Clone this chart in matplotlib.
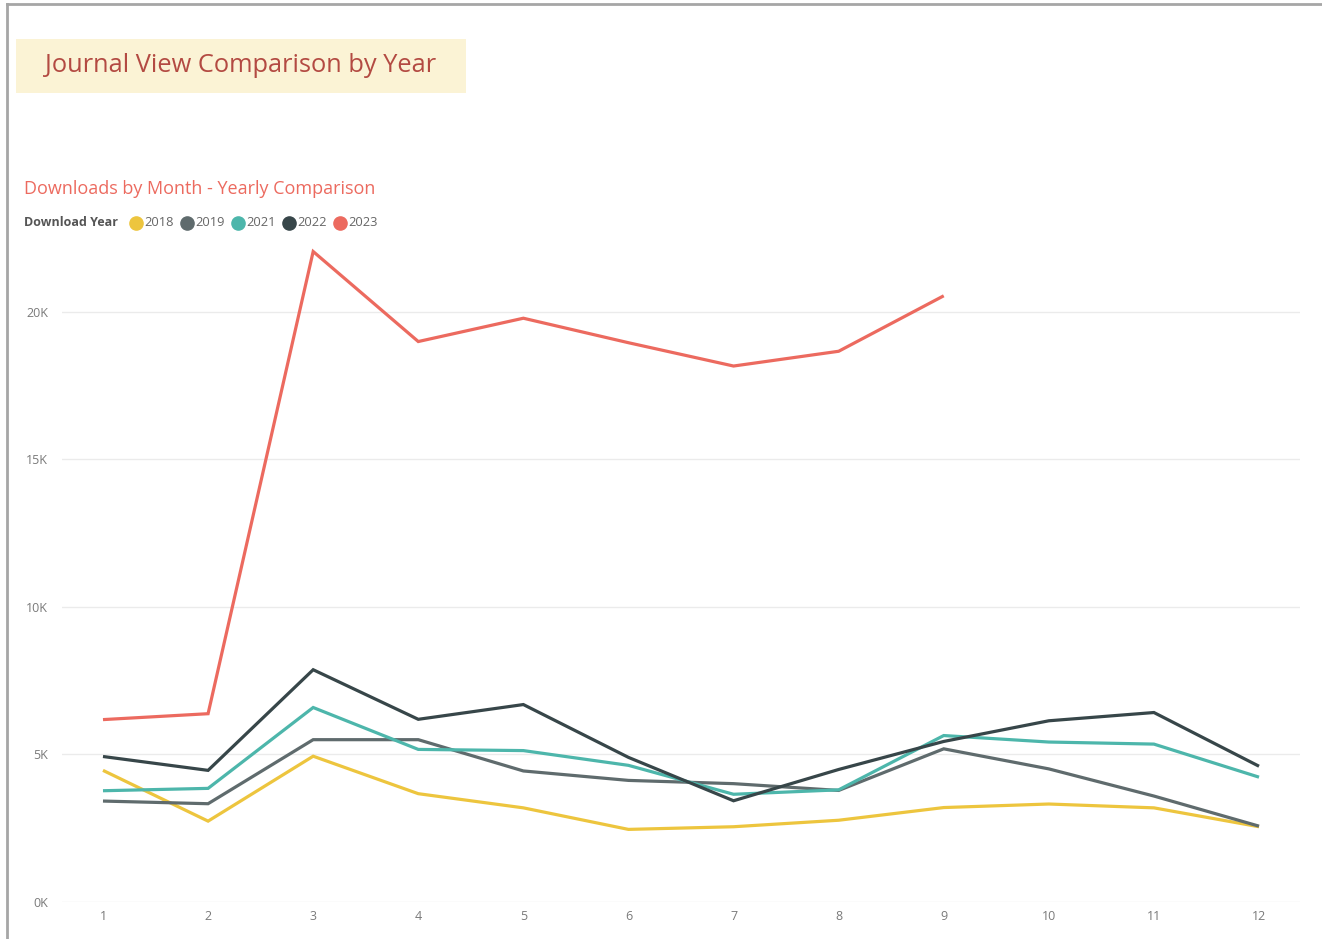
import matplotlib
matplotlib.use("Agg")
import matplotlib.pyplot as plt
from matplotlib.lines import Line2D
from matplotlib.patches import Rectangle
from matplotlib.ticker import FuncFormatter

plt.rcParams['font.family'] = ['Open Sans', 'DejaVu Sans']

months = [1, 2, 3, 4, 5, 6, 7, 8, 9, 10, 11, 12]
years = ["2018", "2019", "2021", "2022", "2023"]
v2018 = [4460, 2740, 4940, 3670, 3190, 2460, 2550, 2770, 3200, 3320, 3190, 2550]
v2019 = [3420, 3330, 5500, 5500, 4440, 4120, 4010, 3780, 5190, 4510, 3590, 2570]
v2021 = [3770, 3850, 6590, 5170, 5130, 4630, 3650, 3800, 5640, 5420, 5350, 4230]
v2022 = [4930, 4460, 7870, 6190, 6690, 4900, 3430, 4490, 5440, 6140, 6420, 4600]
v2023 = [6180, 6380, 22040, 18990, 19780, 18950, 18160, 18660, 20540]
series = [v2018, v2019, v2021, v2022, v2023]
colors = ["#EDC53E", "#5F6B6D", "#4DB6AB", "#374649", "#EC6A5F"]
yticks = [0, 5000, 10000, 15000, 20000]

W, H = 1322, 939
fig = plt.figure(figsize=(W / 100, H / 100), dpi=100)
fig.patch.set_facecolor("white")

def fx(px):
    return px / W

def fy(py):
    return 1 - py / H

ax = fig.add_axes([fx(62), fy(902), fx(1300) - fx(62), fy(237.5) - fy(902)])
for vals, c, yr in zip(series, colors, years):
    ax.plot(months[:len(vals)], vals, color=c, lw=2.3, solid_joinstyle='miter',
            solid_capstyle='butt', label=yr, zorder=3)

ax.set_xlim(0.61, 12.39)
ax.set_ylim(0, 22515)
ax.set_xticks(months)
ax.set_yticks(yticks)
ax.yaxis.set_major_formatter(FuncFormatter(lambda v, p: f"{int(v/1000)}K"))
ax.grid(axis='y', color="#ebebeb", lw=1, zorder=0)
for s in ax.spines.values():
    s.set_visible(False)
ax.tick_params(axis='both', length=0, labelsize=9, labelcolor="#7a7a7a")
ax.tick_params(axis='x', pad=6)
ax.tick_params(axis='y', pad=10)

# frame border
fig.add_artist(Line2D([fx(7), fx(7)], [fy(4), 0], color="#a6a6a6", lw=2))
fig.add_artist(Line2D([fx(7), 1], [fy(4), fy(4)], color="#a6a6a6", lw=2))

# title box
fig.add_artist(Rectangle((fx(16), fy(93)), fx(466) - fx(16), fy(39) - fy(93),
                         facecolor="#FBF3D5", edgecolor="none"))
fig.text(fx(45), fy(65), "Journal View Comparison by Year", fontsize=18.3,
         color="#B34A42", va='center', ha='left')

fig.text(fx(24), fy(189), "Downloads by Month - Yearly Comparison", fontsize=13,
         color="#EC6A5F", va='center', ha='left')

# legend
fig.text(fx(24), fy(223), "Download Year", fontsize=9, fontweight='bold',
         color="#555555", va='center', ha='left')
x0 = 136
for i, (yr, c) in enumerate(zip(years, colors)):
    cx = x0 + i * 51
    fig.add_artist(Line2D([fx(cx)], [fy(223)], marker='o', markersize=9.5,
                          markerfacecolor=c, markeredgecolor=c, linestyle='none'))
    fig.text(fx(cx + 8), fy(223), yr, fontsize=9.3, color="#666666",
             va='center', ha='left')

fig.savefig("out.png", dpi=100)
